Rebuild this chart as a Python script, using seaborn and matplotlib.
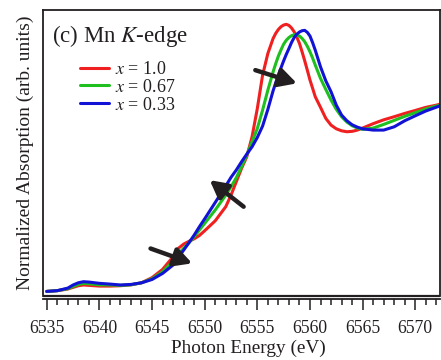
import numpy as np
import pandas as pd
import matplotlib
matplotlib.use("Agg")
import matplotlib.pyplot as plt
from matplotlib.ticker import MultipleLocator
import seaborn as sns

# Photon energy grid (eV)
energy = [6535, 6536, 6537, 6537.5, 6538, 6538.5, 6539, 6540, 6541, 6542,
          6543, 6544, 6545, 6546, 6547, 6547.5, 6548, 6548.5, 6549, 6549.5,
          6550, 6551, 6552, 6552.5, 6553, 6553.5, 6554, 6554.5, 6555, 6555.5,
          6556, 6556.5, 6556.75, 6557, 6557.25, 6557.5, 6557.75, 6558, 6558.25,
          6558.5, 6558.75, 6559, 6559.25, 6559.5, 6559.75, 6560, 6560.25, 6560.5,
          6561, 6561.5, 6562, 6562.5, 6563, 6563.5, 6564, 6564.5, 6565, 6566,
          6567, 6568, 6569, 6570, 6571, 6572, 6572.4]

# Normalized Mn K-edge absorption for each composition
mu_x100 = [0.000, 0.004, 0.013, 0.022, 0.031, 0.035, 0.033, 0.029, 0.029, 0.031,
           0.036, 0.047, 0.075, 0.120, 0.189, 0.235, 0.258, 0.273, 0.287, 0.305,
           0.331, 0.385, 0.462, 0.525, 0.598, 0.671, 0.735, 0.844, 0.998, 1.180,
           1.298, 1.380, 1.408, 1.429, 1.444, 1.453, 1.457, 1.451, 1.437,
           1.416, 1.387, 1.353, 1.307, 1.258, 1.206, 1.153, 1.108, 1.062,
           1.004, 0.944, 0.907, 0.887, 0.876, 0.871, 0.873, 0.880, 0.891, 0.915,
           0.936, 0.953, 0.971, 0.987, 1.004, 1.016, 1.022]

mu_x067 = [0.000, 0.004, 0.015, 0.027, 0.038, 0.044, 0.042, 0.036, 0.035, 0.033,
           0.036, 0.047, 0.069, 0.107, 0.165, 0.204, 0.235, 0.265, 0.298, 0.335,
           0.371, 0.444, 0.525, 0.571, 0.620, 0.680, 0.744, 0.816, 0.889, 0.989,
           1.098, 1.198, 1.243, 1.284, 1.318, 1.349, 1.370, 1.385, 1.395,
           1.400, 1.399, 1.393, 1.380, 1.362, 1.337, 1.307, 1.273, 1.235,
           1.162, 1.102, 1.044, 0.993, 0.953, 0.924, 0.904, 0.891, 0.884, 0.891,
           0.911, 0.933, 0.955, 0.975, 0.995, 1.011, 1.016]

mu_x033 = [0.000, 0.004, 0.018, 0.035, 0.047, 0.053, 0.051, 0.044, 0.040, 0.035,
           0.038, 0.047, 0.065, 0.098, 0.144, 0.185, 0.225, 0.265, 0.307, 0.353,
           0.396, 0.485, 0.575, 0.622, 0.662, 0.707, 0.749, 0.789, 0.840, 0.902,
           0.993, 1.095, 1.139, 1.180, 1.220, 1.258, 1.293, 1.325, 1.358,
           1.385, 1.403, 1.415, 1.422, 1.424, 1.413, 1.393, 1.357, 1.316,
           1.225, 1.149, 1.089, 1.016, 0.962, 0.931, 0.909, 0.896, 0.887, 0.880,
           0.880, 0.898, 0.931, 0.958, 0.984, 1.005, 1.013]

series_labels = ["$x$ = 1.0", "$x$ = 0.67", "$x$ = 0.33"]
series_colors = ["#f02020", "#1fbf1f", "#1212d6"]

x_ticks = [6535, 6540, 6545, 6550, 6555, 6560, 6565, 6570]

df = pd.concat([
    pd.DataFrame({"E": energy, "mu": vals, "sample": lab})
    for vals, lab in zip([mu_x100, mu_x067, mu_x033], series_labels)
], ignore_index=True)

sns.set_style("ticks")
plt.rcParams["font.family"] = ["Liberation Serif", "DejaVu Serif"]
plt.rcParams["mathtext.fontset"] = "stix"
ink = "#231f20"
plt.rcParams["text.color"] = ink
plt.rcParams["axes.labelcolor"] = ink
plt.rcParams["xtick.color"] = ink

fig = plt.figure(figsize=(4.41, 3.60), dpi=100)
ax = fig.add_axes([0.0964, 0.1778, 0.9014, 0.7944])

sns.lineplot(data=df, x="E", y="mu", hue="sample", palette=series_colors,
             hue_order=series_labels, linewidth=2.2, ax=ax, sort=False,
             estimator=None, solid_joinstyle="round", solid_capstyle="round")

ax.set_xlim(6534.6, 6572.35)
ax.set_ylim(-0.025, 1.535)
ax.set_yticks([])
ax.set_xticks(x_ticks)
ax.xaxis.set_minor_locator(MultipleLocator(1))
ax.tick_params(axis="x", which="major", length=8, width=1.1, pad=7,
               labelsize=12.7, direction="out")
ax.tick_params(axis="x", which="minor", length=4.3, width=1.1, direction="out")

for side in ["left", "right", "top", "bottom"]:
    ax.spines[side].set_visible(True)
    ax.spines[side].set_linewidth(1.3)
    ax.spines[side].set_color(ink)
ax.spines["bottom"].set_position(("outward", 2.3))
ax.plot([0, 1], [0, 0], transform=ax.transAxes, color=ink, lw=1.6,
        clip_on=False, solid_capstyle="butt")

ax.set_xlabel("Photon Energy (eV)", fontsize=13.9)
ax.xaxis.set_label_coords(0.517, -0.184)
ax.xaxis.label.set_va("center")
ax.set_ylabel("Normalized Absorption (arb. units)", fontsize=14, labelpad=6)

ax.text(0.023, 0.889, "(c) Mn $K$-edge", transform=ax.transAxes,
        fontsize=16.5, ha="left", va="baseline")

leg = ax.legend(loc="upper left", bbox_to_anchor=(0.095, 0.822), frameon=False,
                fontsize=13, handlelength=1.6, handletextpad=0.35,
                labelspacing=0.05, borderpad=0, borderaxespad=0)
for h in leg.get_lines():
    h.set_linewidth(2.2)

# arrows marking the edge shift with composition
arrows = [((6544.86, 0.234), (6548.81, 0.153)),
          ((6553.70, 0.462), (6550.48, 0.607)),
          ((6554.81, 1.207), (6558.76, 1.135))]
for tail, tip in arrows:
    ax.annotate("", xy=tip, xytext=tail,
                arrowprops=dict(arrowstyle="-|>,head_length=0.75,head_width=0.4",
                                lw=3.2, color=ink, shrinkA=0, shrinkB=0,
                                mutation_scale=14))

fig.savefig("out.png", dpi=100)
